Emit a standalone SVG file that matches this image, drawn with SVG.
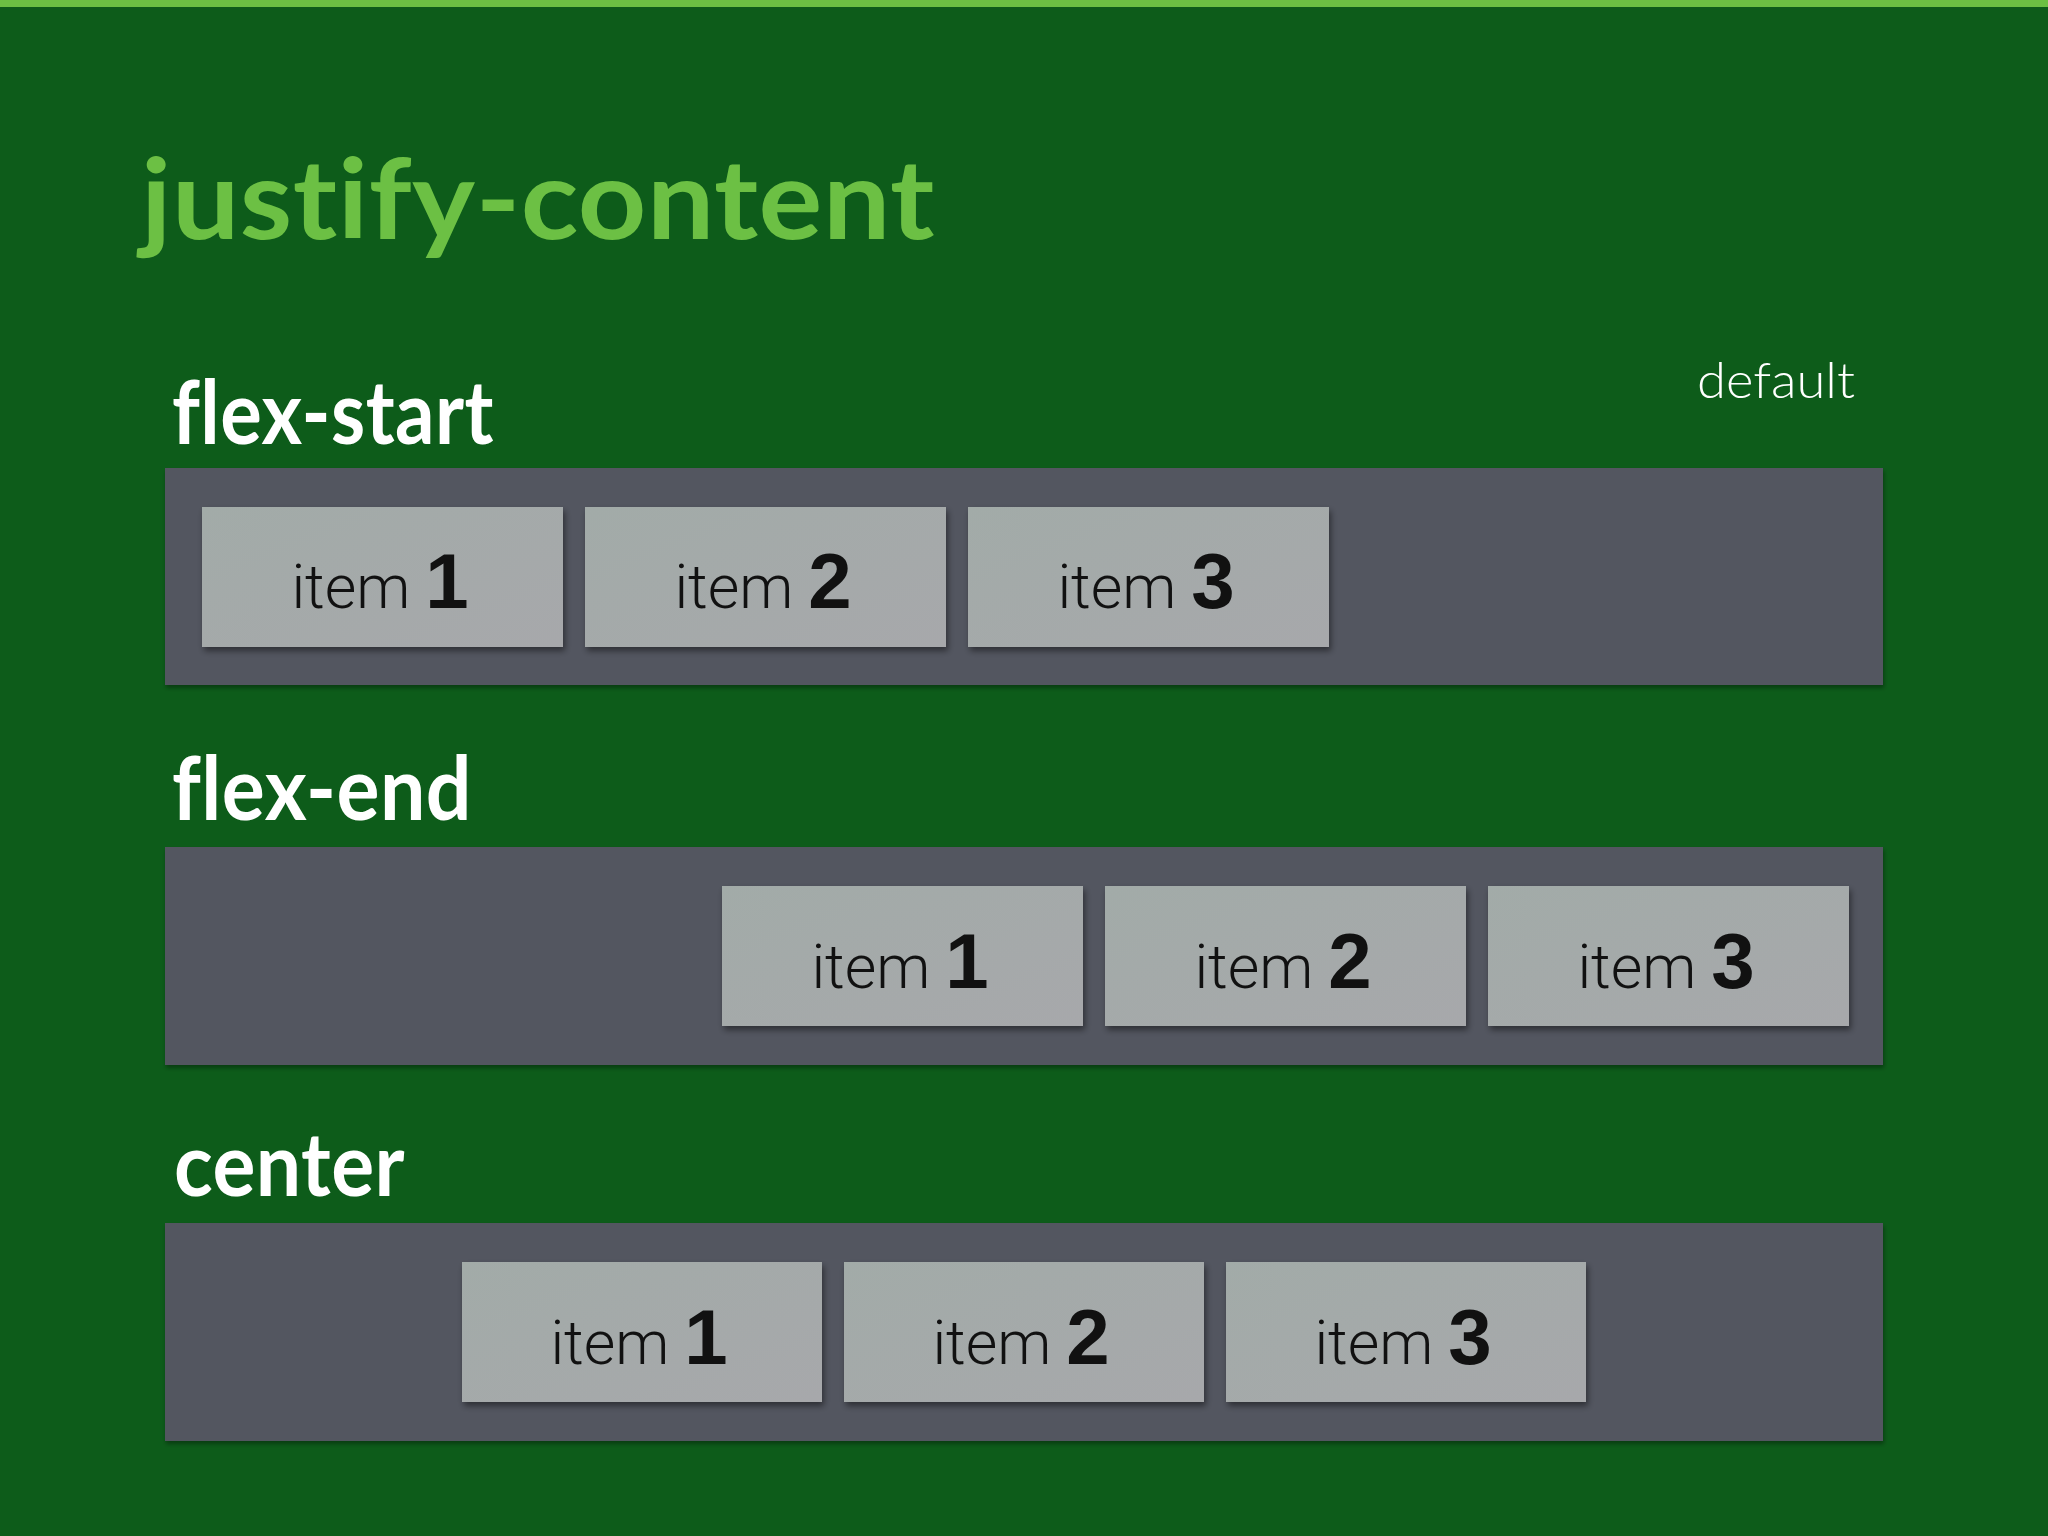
<svg xmlns="http://www.w3.org/2000/svg" width="2048" height="1536" viewBox="0 0 2048 1536">
<defs>
<style>
text{font-variant-ligatures:none;font-feature-settings:"liga" 0,"clig" 0,"dlig" 0}
.title{font-family:Lato,"Noto Sans",sans-serif;font-weight:700;fill:#6cc044;font-size:112px;letter-spacing:0.5px}
.label{font-family:Lato,"Noto Sans",sans-serif;font-weight:700;fill:#ffffff;font-size:88px;letter-spacing:0.5px}
.note{font-family:Lato,"Noto Sans",sans-serif;font-weight:300;fill:#ffffff;font-size:50px}
.box{fill:#535761}
.item{fill:url(#itemGrad)}
.itxt{font-family:Roboto,"Liberation Sans",sans-serif;font-weight:300;fill:#111111;font-size:61px}
.num{font-family:"Liberation Sans",Arial,sans-serif;font-weight:700;font-size:78px}
</style>
<linearGradient id="itemGrad" x1="0" y1="0" x2="1" y2="1">
<stop offset="0" stop-color="#a2aba8"/>
<stop offset="1" stop-color="#a7a8ab"/>
</linearGradient>
<filter id="sh" x="-5%" y="-10%" width="110%" height="125%">
<feDropShadow dx="2" dy="4" stdDeviation="3" flood-color="#000" flood-opacity="0.45"/>
</filter>
<filter id="shc" x="-2%" y="-5%" width="104%" height="115%">
<feDropShadow dx="1" dy="3" stdDeviation="2" flood-color="#000" flood-opacity="0.35"/>
</filter>
</defs>
<rect x="0" y="0" width="2048" height="1536" fill="#0d5c1a"/>
<rect x="0" y="0" width="2048" height="7" fill="#6cc043"/>
<text class="title" x="141" y="239" textLength="794" lengthAdjust="spacingAndGlyphs">justify-content</text>
<text class="note" x="1697" y="398" textLength="158" lengthAdjust="spacingAndGlyphs">default</text>

<g id="row-flex-start">
<text class="label" x="172" y="444" textLength="322" lengthAdjust="spacingAndGlyphs">flex-start</text>
<rect class="box" x="165" y="468" width="1718" height="217" filter="url(#shc)"/>
<g id="fs-item1"><rect class="item" x="202" y="507" width="361" height="140" filter="url(#sh)"/><text class="itxt" x="380" y="608" text-anchor="middle">item <tspan class="num">1</tspan></text></g>
<g id="fs-item2"><rect class="item" x="585" y="507" width="361" height="140" filter="url(#sh)"/><text class="itxt" x="763" y="608" text-anchor="middle">item <tspan class="num">2</tspan></text></g>
<g id="fs-item3"><rect class="item" x="968" y="507" width="361" height="140" filter="url(#sh)"/><text class="itxt" x="1146" y="608" text-anchor="middle">item <tspan class="num">3</tspan></text></g>
</g>

<g id="row-flex-end">
<text class="label" x="172" y="820" textLength="300" lengthAdjust="spacingAndGlyphs">flex-end</text>
<rect class="box" x="165" y="847" width="1718" height="218" filter="url(#shc)"/>
<g id="fe-item1"><rect class="item" x="722" y="886" width="361" height="140" filter="url(#sh)"/><text class="itxt" x="900" y="988" text-anchor="middle">item <tspan class="num">1</tspan></text></g>
<g id="fe-item2"><rect class="item" x="1105" y="886" width="361" height="140" filter="url(#sh)"/><text class="itxt" x="1283" y="988" text-anchor="middle">item <tspan class="num">2</tspan></text></g>
<g id="fe-item3"><rect class="item" x="1488" y="886" width="361" height="140" filter="url(#sh)"/><text class="itxt" x="1666" y="988" text-anchor="middle">item <tspan class="num">3</tspan></text></g>
</g>

<g id="row-center">
<text class="label" x="174" y="1196" textLength="231" lengthAdjust="spacingAndGlyphs">center</text>
<rect class="box" x="165" y="1223" width="1718" height="218" filter="url(#shc)"/>
<g id="c-item1"><rect class="item" x="462" y="1262" width="360" height="140" filter="url(#sh)"/><text class="itxt" x="639" y="1364" text-anchor="middle">item <tspan class="num">1</tspan></text></g>
<g id="c-item2"><rect class="item" x="844" y="1262" width="360" height="140" filter="url(#sh)"/><text class="itxt" x="1021" y="1364" text-anchor="middle">item <tspan class="num">2</tspan></text></g>
<g id="c-item3"><rect class="item" x="1226" y="1262" width="360" height="140" filter="url(#sh)"/><text class="itxt" x="1403" y="1364" text-anchor="middle">item <tspan class="num">3</tspan></text></g>
</g>

<g id="connectors"/>
</svg>
